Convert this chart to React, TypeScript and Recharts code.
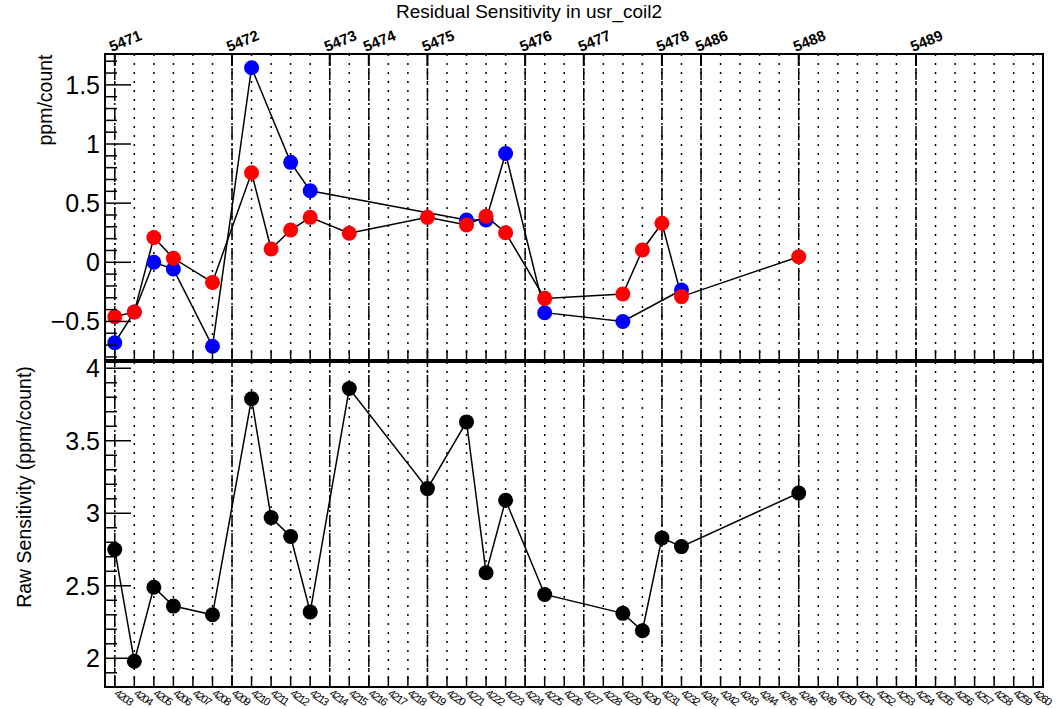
import React from 'react';
import { LineChart, Line, XAxis, YAxis, CartesianGrid, ReferenceLine, ReferenceArea } from 'recharts';

// ---- data ----
const binLabels = [
  '4203', '4204', '4205', '4206', '4207', '4208', '4209', '4210', '4211', '4212',
  '4213', '4214', '4215', '4216', '4217', '4218', '4219', '4220', '4221', '4222',
  '4223', '4224', '4225', '4226', '4227', '4228', '4229', '4230', '4231', '4232',
  '4241', '4242', '4243', '4244', '4245', '4248', '4249', '4250', '4251', '4252',
  '4253', '4254', '4255', '4256', '4257', '4258', '4259', '4260',
];

const pointRuns = [
  '4203', '4204', '4205', '4206', '4208', '4210', '4211', '4212', '4213', '4215',
  '4219', '4221', '4222', '4223', '4225', '4229', '4230', '4231', '4232', '4248',
];

const redValues = [
  -0.46, -0.42, 0.21, 0.034, -0.17, 0.757, 0.112, 0.273, 0.38, 0.245,
  0.38, 0.315, 0.39, 0.25, -0.305, -0.268, 0.104, 0.33, -0.29, 0.047,
];

const blueValues: (number | null)[] = [
  -0.68, -0.42, 0.0, -0.057, -0.71, 1.645, null, 0.845, 0.605, null,
  null, 0.357, 0.357, 0.92, -0.426, -0.5, null, null, -0.234, null,
];

const rawValues = [
  2.75, 1.98, 2.49, 2.36, 2.3, 3.79, 2.97, 2.84, 2.32, 3.86,
  3.17, 3.63, 2.59, 3.09, 2.44, 2.31, 2.19, 2.83, 2.77, 3.14,
];

const runNumbers = ['5471', '5472', '5473', '5474', '5475', '5476', '5477', '5478', '5486', '5488', '5489'];
const runStartBins = ['4203', '4209', '4214', '4216', '4219', '4224', '4227', '4231', '4241', '4248', '4254'];

const topMajorTicks = [-0.5, 0, 0.5, 1, 1.5];
const bottomMajorTicks = [2, 2.5, 3, 3.5, 4];

const titleText = 'Residual Sensitivity in usr_coil2';
const topYTitle = 'ppm/count';
const bottomYTitle = 'Raw Sensitivity (ppm/count)';

// ---- derived ----
const FONT = '"Liberation Sans", Arial, Helvetica, sans-serif';
const binIdx = binLabels.map((_, i) => i);
const runBins = runStartBins.map((r) => binLabels.indexOf(r));
const topData = pointRuns.map((r, i) => ({ bin: binLabels.indexOf(r), red: redValues[i], blue: blueValues[i] }));
const bottomData = pointRuns.map((r, i) => ({ bin: binLabels.indexOf(r), raw: rawValues[i] }));

const TOP_DOMAIN: [number, number] = [-0.826, 1.761];
const BOTTOM_DOMAIN: [number, number] = [1.802, 4.043];
const X_DOMAIN: [number, number] = [-0.5, binLabels.length - 0.5];

const BOTTOM_SVG_TOP = 330;
const BOTTOM_PAD_TOP = 362;

function withMinor(lo: number, hi: number): number[] {
  const out: number[] = [];
  for (let k = Math.ceil(lo * 10); k <= Math.floor(hi * 10); k++) out.push(k / 10);
  return out;
}

const makeYTick = (majors: number[]) => (props: any) => {
  const { x, y, payload } = props;
  const v = payload.value as number;
  const major = majors.some((m) => Math.abs(m - v) < 1e-6);
  const label = v < 0 ? '\u2212' + String(Math.abs(v)) : String(v);
  return (
    <g>
      <line x1={x} x2={x + (major ? 26 : 12)} y1={y} y2={y} stroke="#000" strokeWidth={1.5} />
      {major && (
        <text x={x - 5} y={y} dy="0.36em" textAnchor="end" fontSize={25} fontFamily={FONT} fill="#000">
          {label}
        </text>
      )}
    </g>
  );
};

const XTopTick = (props: any) => {
  const { x, y, payload } = props;
  if (runBins.indexOf(payload.value) < 0) return <g />;
  return <line x1={x} x2={x} y1={y} y2={y + 12} stroke="#000" strokeWidth={2} />;
};

const makeRunLabel = (text: string) => (props: any) => {
  const vb = props.viewBox || {};
  const px = (vb.x ?? 0) - 3;
  const py = (vb.y ?? 0) - 2;
  const a = (-22 * Math.PI) / 180;
  const c = Math.cos(a);
  const s = Math.sin(a);
  return (
    <text
      x={0}
      y={0}
      transform={`matrix(${c} ${s} ${-s} ${c} ${px} ${py})`}
      fontSize={15}
      fontWeight="bold"
      fontFamily={FONT}
      fill="#000"
    >
      {text}
    </text>
  );
};

const XPlainTick = (props: any) => {
  const { x, y } = props;
  return <line x1={x} x2={x} y1={y} y2={y - 10} stroke="#000" strokeWidth={1.5} />;
};

const XBottomTick = (props: any) => {
  const { x, y, payload } = props;
  return (
    <g>
      <line x1={x} x2={x} y1={y} y2={y - 11} stroke="#000" strokeWidth={1.5} />
      <g transform={`translate(${x - 1}, ${y + 8}) rotate(35)`}>
        <text x={0} y={0} fontSize={11} letterSpacing={-1.4} fontFamily={FONT} fill="#000">
          {binLabels[payload.value]}
        </text>
      </g>
    </g>
  );
};

export default function App() {
  return (
    <div style={{ position: 'absolute', left: 0, top: 0, width: 1058, height: 709, background: '#fff', fontFamily: FONT }}>
      <div style={{ position: 'absolute', left: 0, top: 0 }}>
        <LineChart width={1058} height={361} data={topData} margin={{ top: 0, right: 15, bottom: 0, left: 0 }}>
          <XAxis
            xAxisId="t"
            orientation="top"
            type="number"
            dataKey="bin"
            domain={X_DOMAIN}
            ticks={binIdx}
            interval={0}
            height={54}
            axisLine={false}
            tickLine={false}
            tickSize={0}
            tickMargin={0}
            tick={XTopTick}
            allowDataOverflow
          />
          <XAxis
            xAxisId="b"
            orientation="bottom"
            type="number"
            dataKey="bin"
            domain={X_DOMAIN}
            ticks={binIdx}
            interval={0}
            height={1}
            axisLine={false}
            tickLine={false}
            tickSize={0}
            tickMargin={0}
            tick={XPlainTick}
            allowDataOverflow
          />
          <YAxis
            yAxisId="l"
            type="number"
            domain={TOP_DOMAIN}
            ticks={withMinor(TOP_DOMAIN[0], TOP_DOMAIN[1])}
            interval={0}
            width={105}
            axisLine={false}
            tickLine={false}
            tickSize={0}
            tickMargin={0}
            tick={makeYTick(topMajorTicks)}
            allowDataOverflow
          />
          <CartesianGrid xAxisId="b" yAxisId="l" horizontal={false} stroke="#000" strokeWidth={1.5} strokeDasharray="2 7" />
          {runBins.map((b, i) => (
            <ReferenceLine
              key={b}
              xAxisId="b"
              yAxisId="l"
              x={b}
              stroke="#000"
              strokeWidth={1.5}
              strokeDasharray="12 3 2 3"
              label={makeRunLabel(runNumbers[i])}
            />
          ))}
          <ReferenceArea
            xAxisId="b"
            yAxisId="l"
            x1={X_DOMAIN[0]}
            x2={X_DOMAIN[1]}
            y1={TOP_DOMAIN[0]}
            y2={TOP_DOMAIN[1]}
            fill="none"
            fillOpacity={0}
            stroke="#000"
            strokeWidth={2}
          />
          <Line
            xAxisId="b"
            yAxisId="l"
            type="linear"
            dataKey="blue"
            stroke="#000"
            strokeWidth={1.5}
            connectNulls
            isAnimationActive={false}
            dot={{ r: 7.5, fill: '#0000ff', stroke: '#0000ff', strokeWidth: 0 }}
            activeDot={false}
          />
          <Line
            xAxisId="b"
            yAxisId="l"
            type="linear"
            dataKey="red"
            stroke="#000"
            strokeWidth={1.5}
            isAnimationActive={false}
            dot={{ r: 7.5, fill: '#ff0000', stroke: '#ff0000', strokeWidth: 0 }}
            activeDot={false}
          />
        </LineChart>
      </div>
      <div style={{ position: 'absolute', left: 0, top: BOTTOM_SVG_TOP }}>
        <LineChart
          width={1058}
          height={709 - BOTTOM_SVG_TOP}
          data={bottomData}
          margin={{ top: BOTTOM_PAD_TOP - BOTTOM_SVG_TOP, right: 15, bottom: 0, left: 0 }}
        >
          <XAxis
            xAxisId="b"
            orientation="bottom"
            type="number"
            dataKey="bin"
            domain={X_DOMAIN}
            ticks={binIdx}
            interval={0}
            height={22}
            axisLine={false}
            tickLine={false}
            tickSize={0}
            tickMargin={0}
            tick={XBottomTick}
            allowDataOverflow
          />
          <YAxis
            yAxisId="l"
            type="number"
            domain={BOTTOM_DOMAIN}
            ticks={withMinor(BOTTOM_DOMAIN[0], BOTTOM_DOMAIN[1])}
            interval={0}
            width={105}
            axisLine={false}
            tickLine={false}
            tickSize={0}
            tickMargin={0}
            tick={makeYTick(bottomMajorTicks)}
            allowDataOverflow
          />
          <CartesianGrid xAxisId="b" yAxisId="l" horizontal={false} stroke="#000" strokeWidth={1.5} strokeDasharray="2 7" />
          {runBins.map((b) => (
            <ReferenceLine key={b} xAxisId="b" yAxisId="l" x={b} stroke="#000" strokeWidth={1.5} strokeDasharray="12 3 2 3" />
          ))}
          <ReferenceArea
            xAxisId="b"
            yAxisId="l"
            x1={X_DOMAIN[0]}
            x2={X_DOMAIN[1]}
            y1={BOTTOM_DOMAIN[0]}
            y2={BOTTOM_DOMAIN[1]}
            fill="none"
            fillOpacity={0}
            stroke="#000"
            strokeWidth={2}
          />
          <Line
            xAxisId="b"
            yAxisId="l"
            type="linear"
            dataKey="raw"
            stroke="#000"
            strokeWidth={1.5}
            isAnimationActive={false}
            dot={{ r: 7.5, fill: '#000', stroke: '#000', strokeWidth: 0 }}
            activeDot={false}
          />
        </LineChart>
      </div>
      <svg width={1058} height={709} style={{ position: 'absolute', left: 0, top: 0, pointerEvents: 'none' }}>
        <text x={529} y={18} textAnchor="middle" fontSize={19} fontFamily={FONT} fill="#000">
          {titleText}
        </text>
        <text
          x={45}
          y={100}
          transform="rotate(-90, 45, 100)"
          textAnchor="middle"
          dy="0.35em"
          fontSize={19.5}
          fontFamily={FONT}
          fill="#000"
        >
          {topYTitle}
        </text>
        <text
          x={24}
          y={487}
          transform="rotate(-90, 24, 487)"
          textAnchor="middle"
          dy="0.35em"
          fontSize={19.5}
          fontFamily={FONT}
          fill="#000"
        >
          {bottomYTitle}
        </text>
      </svg>
    </div>
  );
}
